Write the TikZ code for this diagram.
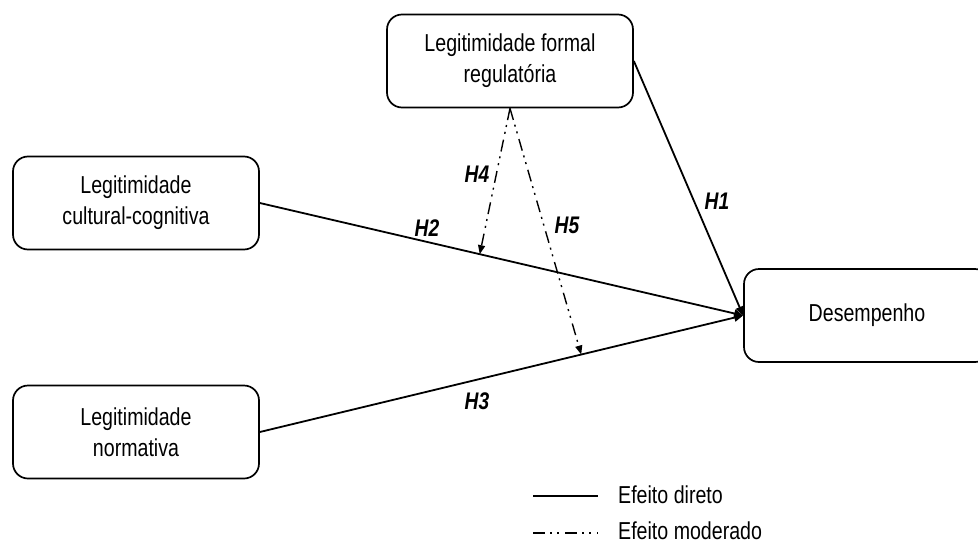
\documentclass[tikz,border=0pt]{standalone}
\usepackage{fontspec}
\setmainfont{Liberation Sans}[FakeStretch=0.8]
\usepackage{tikz}
\usetikzlibrary{arrows.meta}
\usetikzlibrary{calc}

\begin{document}
\begin{tikzpicture}[x=1pt,y=-1pt,
        caixa/.style={draw,line width=1.7pt,rounded corners=15pt,minimum width=246pt,minimum height=93pt,align=center,inner sep=0pt,font=\fontsize{24.5}{31}\selectfont},
        direto/.style={line width=1.8pt,-{Triangle[length=9pt,width=8pt]}},
        moderado/.style={line width=1.4pt,dash pattern=on 12pt off 5pt on 2pt off 5pt on 2pt off 6pt,-{Triangle[length=9pt,width=7pt]}},
        rotulo/.style={font=\fontsize{24}{28}\selectfont\bfseries\itshape},
        legenda/.style={anchor=base west,inner sep=0pt,font=\fontsize{24.5}{28}\selectfont}]
            \clip (0,0) rectangle (978,544);

            \node[caixa] (formal) at (510,61) {Legitimidade formal\\regulatória};
            \node[caixa] (cultural) at (136,203) {Legitimidade\\cultural-cognitiva};
            \node[caixa] (normativa) at (136,432) {Legitimidade\\normativa};
            \node[caixa] (desempenho) at (867,315.5) {Desempenho};

            \draw[direto] (formal.east) -- (desempenho.west);
            \draw[direto] (cultural.east) -- (desempenho.west);
            \draw[direto] (normativa.east) -- (desempenho.west);

            \coordinate (alvoH4) at ($(cultural.east)!0.455!(desempenho.west)$);
            \coordinate (alvoH5) at ($(normativa.east)!0.665!(desempenho.west)$);
            \draw[moderado] (formal.south) -- (alvoH4);
            \draw[moderado] (formal.south) -- (alvoH5);

            \node[rotulo] (h1) at (717,201) {H1};
            \node[rotulo] (h2) at (427,228) {H2};
            \node[rotulo] (h3) at (477,401) {H3};
            \node[rotulo] (h4) at (477,174) {H4};
            \node[rotulo] (h5) at (567,225) {H5};

            % legenda
            \coordinate (d1) at (533,496);
            \coordinate (d2) at (598,496);
            \coordinate (m1) at (533,533);
            \coordinate (m2) at (598,533);
            \draw[line width=1.8pt] (d1) -- (d2);
            \draw[line width=1.8pt,dash pattern=on 12pt off 5pt on 2pt off 5pt on 2pt off 6pt] (m1) -- (m2);
            \node[legenda] (ldireto) at (618,503) {Efeito direto};
            \node[legenda] (lmoderado) at (618,539.5) {Efeito moderado};
        \end{tikzpicture}
\end{document}
